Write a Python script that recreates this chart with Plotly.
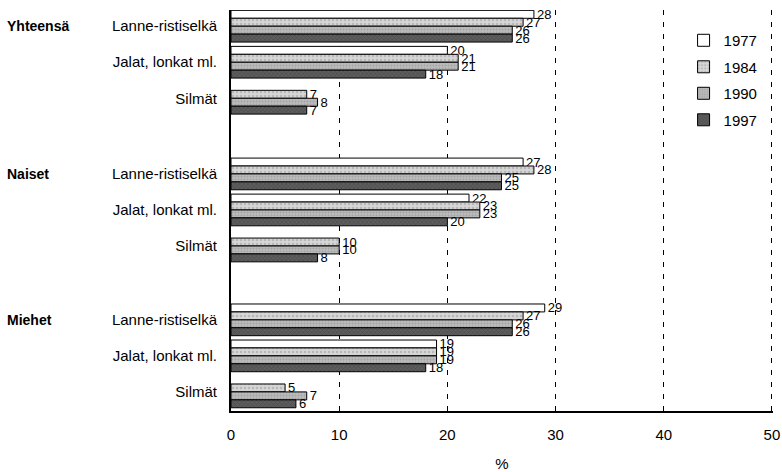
import plotly.graph_objects as go

groups = ["Yhteensä", "Naiset", "Miehet"]
categories = ["Lanne-ristiselkä", "Jalat, lonkat ml.", "Silmät"]
years = ["1977", "1984", "1990", "1997"]

# values per year, order: Yhteensä(L, J, S), Naiset(L, J, S), Miehet(L, J, S)
v1977 = [28, 20, None, 27, 22, None, 29, 19, None]
v1984 = [27, 21, 7, 28, 23, 10, 27, 19, 5]
v1990 = [26, 21, 8, 25, 23, 10, 26, 19, 7]
v1997 = [26, 18, 7, 25, 20, 8, 26, 18, 6]

x_ticks = [0, 10, 20, 30, 40, 50]

ypos = [0, 1, 2, 4.1, 5.1, 6.1, 8.15, 9.15, 10.15]
ylabels = categories * 3

FONT = "Liberation Sans Narrow, Liberation Sans, Arial, sans-serif"

styles = [
    dict(color="white", pattern=dict(shape="")),
    dict(color="#d6d6d6", pattern=dict(shape=".", fgcolor="#9a9a9a", size=4, solidity=0.3)),
    dict(color="#bdbdbd", pattern=dict(shape=".", fgcolor="#8a8a8a", size=3, solidity=0.4)),
    dict(color="#5e5e5e", pattern=dict(shape="x", fgcolor="#303030", size=3, solidity=0.35)),
]

fig = go.Figure()
for yr, vals, st in zip(years, [v1977, v1984, v1990, v1997], styles):
    fig.add_trace(go.Bar(
        y=ypos, x=vals, orientation="h", name=yr,
        marker=dict(color=st["color"], pattern=st["pattern"],
                    line=dict(color="black", width=1)),
        text=[("" if v is None else str(v)) for v in vals],
        textposition="outside", cliponaxis=False, constraintext="none",
        textfont=dict(family=FONT, size=13, color="black"),
        outsidetextfont=dict(family=FONT, size=13, color="black"),
        insidetextfont=dict(family=FONT, size=13, color="black"),
        legendgroup=yr,
    ))

for g, yv in zip(groups, [ypos[0], ypos[3], ypos[6]]):
    fig.add_annotation(x=0, xref="paper", xshift=-226, xanchor="left",
                       y=yv, yref="y", text="<b>" + g + "</b>", showarrow=False,
                       font=dict(family=FONT, size=14, color="black"))

fig.update_layout(
    width=782, height=472,
    margin=dict(l=231, r=9, t=10, b=61, autoexpand=False),
    paper_bgcolor="white", plot_bgcolor="white",
    barmode="group", bargap=0.12, bargroupgap=0,
    font=dict(family=FONT, size=15, color="black"),
    showlegend=True,
    legend=dict(x=0.835, y=0.965, xanchor="left", yanchor="top",
                bgcolor="rgba(0,0,0,0)", borderwidth=0,
                font=dict(family=FONT, size=15), tracegroupgap=4,
                traceorder="grouped", itemwidth=30),
)
fig.update_xaxes(range=[0, 50.1], tickvals=x_ticks, ticktext=[str(t) for t in x_ticks],
                 showgrid=True, gridcolor="black", gridwidth=1, griddash="5px,7px",
                 showline=True, linecolor="black", linewidth=2, zeroline=False,
                 ticks="", ticklabelstandoff=9,
                 title=dict(text="%", standoff=18, font=dict(size=15)),
                 tickfont=dict(size=15), automargin=False)
fig.update_yaxes(range=[10.68, -0.45], tickvals=ypos, ticktext=ylabels,
                 showgrid=False, showline=True, linecolor="black", linewidth=2,
                 zeroline=False, ticks="", ticklabelstandoff=9,
                 tickfont=dict(size=15), automargin=False)

fig.write_html(
    "out.html",
    config={"displayModeBar": False},
    post_script="document.body.style.margin='0';document.body.style.overflow='hidden';",
)
